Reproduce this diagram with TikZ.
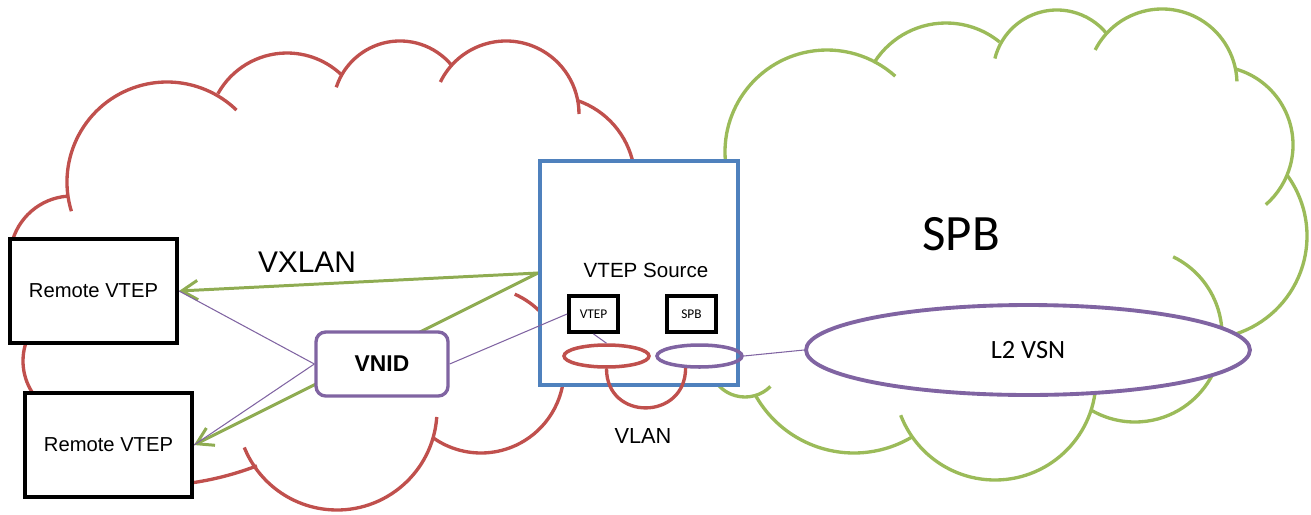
\documentclass[tikz,border=0pt]{standalone}
\usepackage{fontspec}
\setmainfont{Liberation Sans}
\newfontfamily\carlito{Carlito}
\usetikzlibrary{arrows.meta,shapes.geometric,backgrounds}

\definecolor{cloudred}{HTML}{C0504D}
\definecolor{cloudgreen}{HTML}{9BBB59}
\definecolor{vsnpurple}{HTML}{8064A2}
\definecolor{boxblue}{HTML}{4F81BD}

\begin{document}
\begin{tikzpicture}[x=0.02cm,y=-0.02cm,>={Straight Barb[length=9pt,width=11pt]},
  redcloud/.style={draw=cloudred,line width=1.9pt},
  greencloud/.style={draw=cloudgreen,line width=1.9pt},
  vxlanline/.style={draw=cloudgreen!92!black,line width=1.7pt},
  vnidline/.style={draw=vsnpurple,line width=0.6pt},
  remote/.style={draw,line width=2.3pt,fill=white,minimum width=3.34cm,minimum height=2.08cm,font=\fontsize{11.5}{13}\selectfont},
  small box/.style={draw,line width=2.2pt,fill=white,minimum width=0.98cm,minimum height=0.72cm,inner sep=0pt,font=\carlito\fontsize{7.6}{9}\selectfont},
  ring/.style={ellipse,line width=2pt,minimum width=1.7cm,minimum height=0.44cm,inner sep=0pt}]

  \useasboundingbox (0,0) rectangle (1311,514);

  % clouds
  \begin{pgfonlayer}{background}
    \draw[redcloud] (81,361) ++(140:58) arc[start angle=140,end angle=200,radius=58];
    \draw[redcloud] (72,258) ++(192:62) arc[start angle=192,end angle=266,radius=62];
    \draw[redcloud] (167,182) ++(163:100) arc[start angle=163,end angle=314,radius=100];
    \draw[redcloud] (287,132) ++(209:79) arc[start angle=209,end angle=314,radius=79];
    \draw[redcloud] (400,108) ++(198:67) arc[start angle=198,end angle=320,radius=67];
    \draw[redcloud] (506,114) ++(206:73) arc[start angle=206,end angle=360,radius=73];
    \draw[redcloud] (550,181) ++(289:85) arc[start angle=289,end angle=400,radius=85];
    \draw[redcloud] (481,370) ++(-66:83) arc[start angle=-66,end angle=125,radius=83];
    \draw[redcloud] (337,410) ++(4:100) arc[start angle=4,end angle=158,radius=100];
    \draw[redcloud] (148,182) ++(69:304) arc[start angle=69,end angle=88,radius=304];

    \draw[greencloud] (827,152) ++(170:102) arc[start angle=170,end angle=312,radius=102];
    \draw[greencloud] (946,108) ++(213:85) arc[start angle=213,end angle=309,radius=85];
    \draw[greencloud] (1057,74) ++(194:64) arc[start angle=194,end angle=321,radius=64];
    \draw[greencloud] (1162,84) ++(207:75) arc[start angle=207,end angle=358,radius=75];
    \draw[greencloud] (1214,145) ++(-75:79) arc[start angle=-75,end angle=49,radius=79];
    \draw[greencloud] (1204,236) ++(-36:103) arc[start angle=-36,end angle=75,radius=103];
    \draw[greencloud] (1135,335) ++(-64:87) arc[start angle=-64,end angle=120,radius=87];
    \draw[greencloud] (995,379) ++(5:101) arc[start angle=5,end angle=159,radius=101];
    \draw[greencloud] (854,340) ++(59:113) arc[start angle=59,end angle=151,radius=113];
    \draw[greencloud] (745,361) ++(45:36) arc[start angle=45,end angle=160,radius=36];
  \end{pgfonlayer}

  \node[remote] (rv1) at (93.5,291) {Remote VTEP};
  \node[remote] (rv2) at (108.5,445) {Remote VTEP};
  \node[draw=vsnpurple,line width=1.9pt,fill=white,rounded corners=5.5pt,minimum width=2.64cm,minimum height=1.28cm,font=\bfseries\fontsize{13}{15}\selectfont] (vnid) at (382,364) {VNID};
  \node[draw=boxblue,line width=2.3pt,fill=white,minimum width=3.96cm,minimum height=4.48cm] (src) at (639,273) {};
  \node[font=\fontsize{11.7}{13}\selectfont] (srclabel) at (646,270) {VTEP Source};
  \node[small box] (vtep) at (593.5,314) {VTEP};
  \node[small box] (spb) at (691.5,314) {SPB};
  \node[ring,draw=cloudred] (vlanL) at (606.5,356) {};
  \node[ring,draw=vsnpurple] (vlanR) at (699.5,356) {};
  \node[ellipse,draw=vsnpurple,line width=2.2pt,fill=white,minimum width=8.88cm,minimum height=1.8cm,font=\carlito\fontsize{15}{17}\selectfont] (vsn) at (1028,350) {L2 VSN};

  \node[font=\fontsize{17}{19}\selectfont] (vxlan) at (307,262) {VXLAN};
  \node[font=\fontsize{12.4}{14}\selectfont] (vlan) at (643,436) {VLAN};
  \node[font=\carlito\fontsize{29}{32}\selectfont] (spbname) at (961,234) {SPB};

  \begin{pgfonlayer}{background}
    \draw[vxlanline,->] (src.west) -- (rv1.east);
    \draw[vxlanline,->] (src.west) -- (rv2.east);
    \draw[vnidline] (rv1.east) -- (vnid.west);
    \draw[vnidline] (vnid.west) -- (rv2.east);
  \end{pgfonlayer}
  \draw[vnidline] (vnid.east) -- (vtep.west);
  \draw[vnidline] (vtep.south) -- (vlanL.north);
  \draw[vnidline] (vlanR.east) -- (vsn.west);
  \draw[redcloud] (vlanL.south) to[out=-90,in=-90,looseness=1.7] (vlanR.221);

\end{tikzpicture}
\end{document}
